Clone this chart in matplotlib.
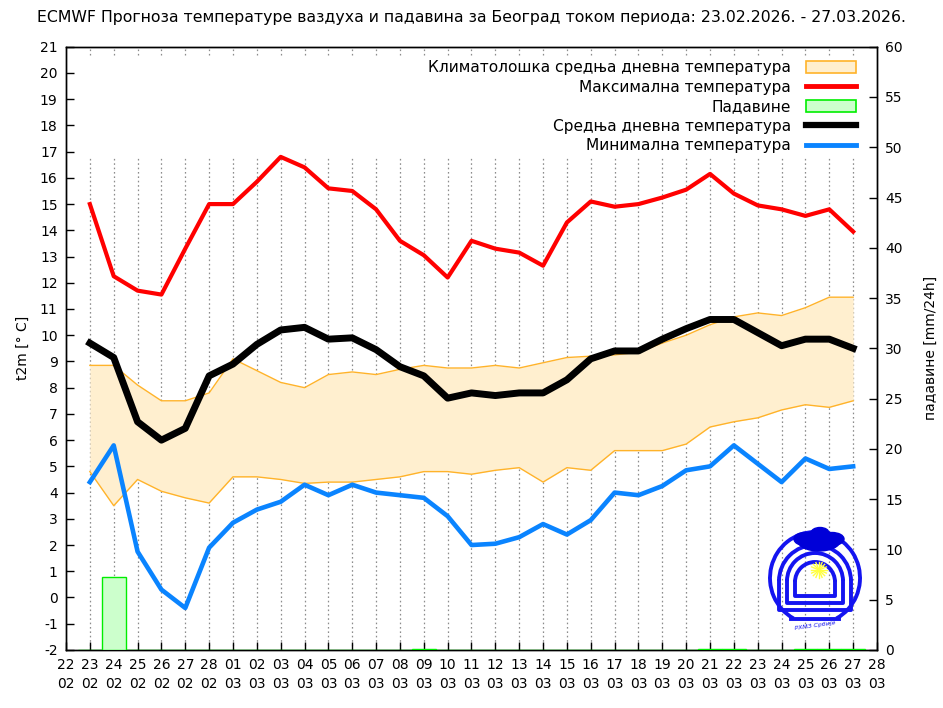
import numpy as np
import matplotlib
matplotlib.use('Agg')
import matplotlib.pyplot as plt
from matplotlib.lines import Line2D
from matplotlib.patches import Patch, Arc, Ellipse

plt.rcParams['font.family'] = ['DejaVu Sans']
plt.rcParams['axes.unicode_minus'] = False

# datumi na x osi (22.02. - 28.03.)
tick_days = ['22', '23', '24', '25', '26', '27', '28', '01', '02', '03', '04', '05',
             '06', '07', '08', '09', '10', '11', '12', '13', '14', '15', '16', '17',
             '18', '19', '20', '21', '22', '23', '24', '25', '26', '27', '28']
tick_months = ['02'] * 7 + ['03'] * 28

# prognoza od 23.02. do 27.03.
t_max = [15.0, 12.25, 11.7, 11.55, 13.3, 15.0, 15.0, 15.85, 16.8, 16.4, 15.6, 15.5,
         14.8, 13.6, 13.05, 12.2, 13.6, 13.3, 13.15, 12.65, 14.3, 15.1, 14.9, 15.0,
         15.25, 15.55, 16.15, 15.4, 14.95, 14.8, 14.55, 14.8, 13.95]
t_mean = [9.7, 9.15, 6.7, 6.0, 6.45, 8.45, 8.9, 9.65, 10.2, 10.3, 9.85, 9.9,
          9.45, 8.8, 8.45, 7.6, 7.8, 7.7, 7.8, 7.8, 8.3, 9.1, 9.4, 9.4,
          9.85, 10.25, 10.6, 10.6, 10.1, 9.6, 9.85, 9.85, 9.5]
t_min = [4.4, 5.8, 1.75, 0.3, -0.4, 1.9, 2.85, 3.35, 3.65, 4.3, 3.9, 4.3,
         4.0, 3.9, 3.8, 3.1, 2.0, 2.05, 2.3, 2.8, 2.4, 2.95, 4.0, 3.9,
         4.25, 4.85, 5.0, 5.8, 5.1, 4.4, 5.3, 4.9, 5.0]
clim_hi = [8.85, 8.85, 8.1, 7.5, 7.5, 7.8, 9.1, 8.65, 8.2, 8.0, 8.5, 8.6,
           8.5, 8.7, 8.85, 8.75, 8.75, 8.85, 8.75, 8.95, 9.15, 9.2, 9.25, 9.35,
           9.7, 10.0, 10.4, 10.7, 10.85, 10.75, 11.05, 11.45, 11.45]
clim_lo = [4.8, 3.5, 4.5, 4.05, 3.8, 3.6, 4.6, 4.6, 4.5, 4.35, 4.4, 4.4,
           4.5, 4.6, 4.8, 4.8, 4.7, 4.85, 4.95, 4.4, 4.95, 4.85, 5.6, 5.6,
           5.6, 5.85, 6.5, 6.7, 6.85, 7.15, 7.35, 7.25, 7.5]
padavine = [0, 7.3, 0, 0, 0, 0, 0, 0, 0, 0, 0, 0,
            0, 0, 0.1, 0, 0, 0, 0, 0, 0, 0, 0, 0,
            0, 0, 0.1, 0.1, 0, 0, 0.1, 0.1, 0.1]

x = np.arange(1, len(t_max) + 1)
x_ticks = np.arange(len(tick_days))

fig = plt.figure(figsize=(9.43, 7.08), dpi=100)
ax = fig.add_axes([0.070, 0.082, 0.860, 0.852])
ax2 = ax.twinx()

# isprekidana mreza (prekinuta iza legende)
ax.vlines(x_ticks[1:-1], -2, 16.82, colors='#8c8c8c', linestyles=(0, (1.3, 2.2)), lw=0.9, zorder=0)
ax.vlines(x_ticks[1:-1], 20.67, 21, colors='#8c8c8c', linestyles=(0, (1.3, 2.2)), lw=0.9, zorder=0)

# klimatologija
ax.fill_between(x, clim_lo, clim_hi, color='#ffefcf', lw=0, zorder=1)
ax.plot(x, clim_hi, color='#ffb32a', lw=1.0, zorder=2)
ax.plot(x, clim_lo, color='#ffb32a', lw=1.0, zorder=2)

ax.plot(x, t_max, color='#ff0000', lw=3.0, zorder=4)
ax.plot(x, t_mean, color='black', lw=5.0, zorder=4)
ax.plot(x, t_min, color='#0a84ff', lw=3.3, zorder=4)

ax.set_xlim(0, 34)
ax.set_ylim(-2, 21)
ax.set_yticks(range(-2, 22))
ax.set_xticks(x_ticks)
ax.set_xticklabels([d + '\n' + m for d, m in zip(tick_days, tick_months)], linespacing=1.45)
ax.tick_params(axis='both', direction='in', length=6, width=1, labelsize=10)
ax.tick_params(axis='x', pad=6)
ax.tick_params(axis='y', pad=6)
ax.set_ylabel('t2m [° C]', fontsize=10, labelpad=7)

# padavine na desnoj osi
ax2.bar(x, padavine, width=1.0, color='#ccffcc', edgecolor='#00ee00', lw=1.0, zorder=3)
ax2.set_ylim(0, 60)
ax2.set_yticks(range(0, 61, 5))
ax2.tick_params(axis='y', direction='in', length=6, width=1, labelsize=10, pad=6)
ax2.set_ylabel('падавине [mm/24h]', fontsize=10, labelpad=15)

for a in (ax, ax2):
    for s in a.spines.values():
        s.set_linewidth(1.0)

handles = [Patch(facecolor='#ffefcf', edgecolor='#ffb32a', lw=1.2),
           Line2D([], [], color='#ff0000', lw=3.5),
           Patch(facecolor='#ccffcc', edgecolor='#00ee00', lw=1.2),
           Line2D([], [], color='black', lw=4.5),
           Line2D([], [], color='#0a84ff', lw=3.5)]
labels = ['Климатолошка средња дневна температура',
          'Максимална температура',
          'Падавине',
          'Средња дневна температура',
          'Минимална температура']
ax2.legend(handles, labels, loc='upper right', bbox_to_anchor=(0.989, 0.998),
           frameon=False, markerfirst=False, fontsize=11.1, handlelength=3.2,
           handleheight=0.8, handletextpad=1.0, labelspacing=0.29, borderpad=0.3)

fig.text(0.5, 0.975, 'ECMWF Прогноза температуре ваздуха и падавина за Београд током периода: 23.02.2026. - 27.03.2026.',
         ha='center', va='center', fontsize=11.3)

# logo RHMZ (jedinice ~ pikseli)
lg = fig.add_axes([765 / 943, 74 / 708, 100 / 943, 110 / 708])
lg.set_xlim(-50, 50)
lg.set_ylim(-55, 55)
lg.axis('off')
blue = '#1414f0'
lg.add_patch(Arc((0, 1), 90, 92, theta1=-62, theta2=242, color=blue, lw=2.8))
lg.plot([-24, 24], [-40, -40], color=blue, lw=2.8)
for w, top, bot in [(36, 34, -31), (28, 26, -24), (20, 17, -17)]:
    yc = top - w
    lg.add_patch(Arc((0, yc), 2 * w, 2 * w, theta1=0, theta2=180, color=blue, lw=2.8))
    lg.plot([-w, -w, w, w], [yc, bot, bot, yc], color=blue, lw=2.8)
lg.add_patch(Ellipse((4, 38), 42, 20, color='#0000d8'))
lg.add_patch(Ellipse((-10, 40), 22, 13, color='#0000d8'))
lg.add_patch(Ellipse((17, 40), 24, 13, color='#0000d8'))
lg.add_patch(Ellipse((5, 46), 18, 11, color='#0000d8'))
for k in range(8):
    t = np.pi * k / 8
    lg.plot([4 - 8 * np.cos(t), 4 + 8 * np.cos(t)], [9 - 8 * np.sin(t), 9 + 8 * np.sin(t)],
            color='#ffff40', lw=1.0)
lg.text(0, -47, 'РХМЗ Србије', color=blue, fontsize=4.5, ha='center', va='center',
        style='italic', rotation=8)

fig.savefig('out.png', dpi=100)
